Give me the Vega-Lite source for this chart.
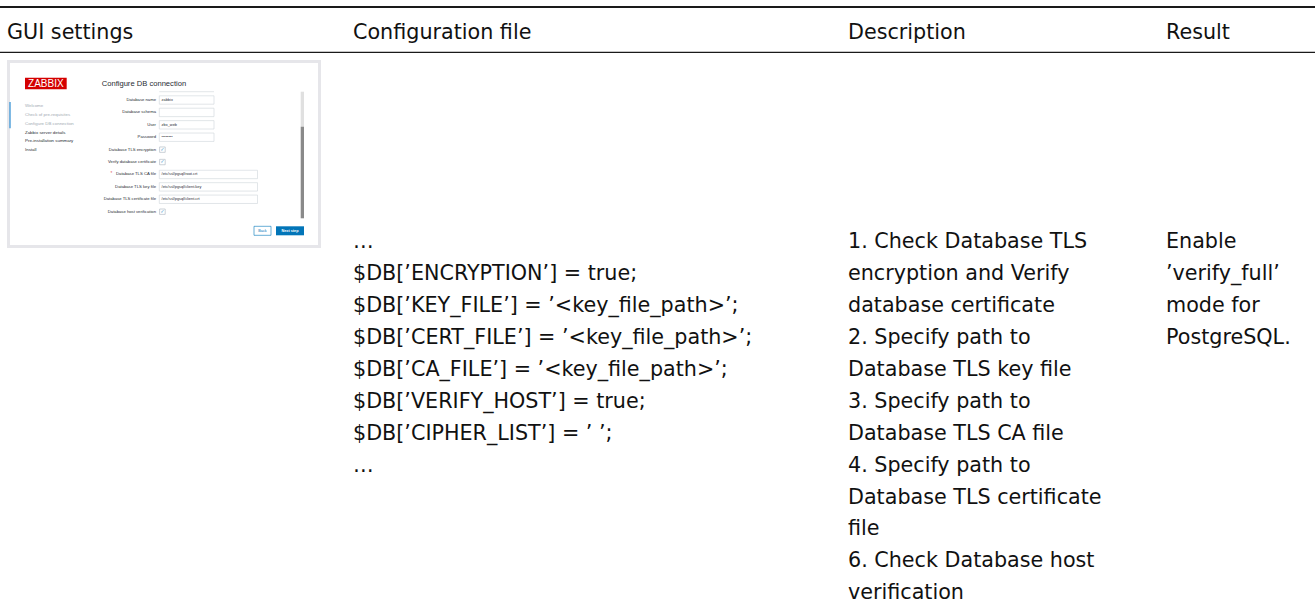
{
  "$schema": "https://vega.github.io/schema/vega-lite/v6.json",
  "width": 1315,
  "height": 611,
  "padding": 0,
  "autosize": "none",
  "background": "white",
  "config": {"view": {"stroke": null}},
  "datasets": {
    "edges": [
      {"edge": -0.5, "rule": "top"},
      {"edge": 0.5, "rule": "header"}
    ],
    "cells": [
      {"col": 1, "line": 0, "text": "GUI settings"},
      {"col": 2, "line": 0, "text": "Configuration file"},
      {"col": 3, "line": 0, "text": "Description"},
      {"col": 4, "line": 0, "text": "Result"},
      {"col": 2, "line": 1, "text": "…"},
      {"col": 2, "line": 2, "text": "$DB[’ENCRYPTION’] = true;"},
      {"col": 2, "line": 3, "text": "$DB[’KEY_FILE’] = ’<key_file_path>’;"},
      {"col": 2, "line": 4, "text": "$DB[’CERT_FILE’] = ’<key_file_path>’;"},
      {"col": 2, "line": 5, "text": "$DB[’CA_FILE’] = ’<key_file_path>’;"},
      {"col": 2, "line": 6, "text": "$DB[’VERIFY_HOST’] = true;"},
      {"col": 2, "line": 7, "text": "$DB[’CIPHER_LIST’] = ’ ’;"},
      {"col": 2, "line": 8, "text": "…"},
      {"col": 3, "line": 1, "text": "1. Check Database TLS"},
      {"col": 3, "line": 2, "text": "encryption and Verify"},
      {"col": 3, "line": 3, "text": "database certificate"},
      {"col": 3, "line": 4, "text": "2. Specify path to"},
      {"col": 3, "line": 5, "text": "Database TLS key file"},
      {"col": 3, "line": 6, "text": "3. Specify path to"},
      {"col": 3, "line": 7, "text": "Database TLS CA file"},
      {"col": 3, "line": 8, "text": "4. Specify path to"},
      {"col": 3, "line": 9, "text": "Database TLS certificate"},
      {"col": 3, "line": 10, "text": "file"},
      {"col": 3, "line": 11, "text": "6. Check Database host"},
      {"col": 3, "line": 12, "text": "verification"},
      {"col": 4, "line": 1, "text": "Enable"},
      {"col": 4, "line": 2, "text": "’verify_full’"},
      {"col": 4, "line": 3, "text": "mode for"},
      {"col": 4, "line": 4, "text": "PostgreSQL."}
    ],
    "screen": [
      {"page": "Configure DB connection", "logo": "ZABBIX", "back": "Back", "next": "Next step"}
    ],
    "steps": [
      {"step": 1, "name": "Welcome", "status": "done"},
      {"step": 2, "name": "Check of pre-requisites", "status": "done"},
      {"step": 3, "name": "Configure DB connection", "status": "current"},
      {"step": 4, "name": "Zabbix server details", "status": "pending"},
      {"step": 5, "name": "Pre-installation summary", "status": "pending"},
      {"step": 6, "name": "Install", "status": "pending"}
    ],
    "fields": [
      {"row": 1, "label": "Database name", "kind": "text", "value": "zabbix", "required": false},
      {"row": 2, "label": "Database schema", "kind": "text", "value": "", "required": false},
      {"row": 3, "label": "User", "kind": "text", "value": "zbx_web", "required": false},
      {"row": 4, "label": "Password", "kind": "text", "value": "••••••••", "required": false},
      {"row": 5, "label": "Database TLS encryption", "kind": "checkbox", "value": "", "required": false},
      {"row": 6, "label": "Verify database certificate", "kind": "checkbox", "value": "", "required": false},
      {"row": 7, "label": "Database TLS CA file", "kind": "path", "value": "/etc/ssl/pgsql/root.crt", "required": true},
      {"row": 8, "label": "Database TLS key file", "kind": "path", "value": "/etc/ssl/pgsql/client.key", "required": false},
      {"row": 9, "label": "Database TLS certificate file", "kind": "path", "value": "/etc/ssl/pgsql/client.crt", "required": false},
      {"row": 10, "label": "Database host verification", "kind": "checkbox", "value": "", "required": false}
    ]
  },
  "layer": [
    {
      "layer": [
        {
          "data": {"name": "edges"},
          "mark": {"type": "rule", "color": "#1a1a1a"},
          "encoding": {
            "y": {"field": "edge", "type": "quantitative", "axis": null,
                  "scale": {"domain": [-0.5, 0, 0.5, 1, 12], "range": [7, 38.5, 52.3, 248.3, 599.2], "nice": false, "zero": false}},
            "strokeWidth": {"field": "rule", "type": "nominal", "legend": null,
                            "scale": {"domain": ["top", "header"], "range": [2, 1.3]}}
          }
        },
        {
          "data": {"name": "cells"},
          "mark": {"type": "text", "align": "left", "baseline": "alphabetic", "font": "DejaVu Sans", "fontSize": 20.7, "color": "#111111"},
          "encoding": {
            "x": {"field": "col", "type": "quantitative", "axis": null,
                  "scale": {"domain": [1, 2, 3, 4], "range": [7, 353, 848, 1166], "nice": false, "zero": false}},
            "y": {"field": "line", "type": "quantitative", "axis": null,
                  "scale": {"domain": [-0.5, 0, 0.5, 1, 12], "range": [7, 38.5, 52.3, 248.3, 599.2], "nice": false, "zero": false}},
            "text": {"field": "text", "type": "nominal"}
          }
        }
      ]
    },
    {
      "layer": [
        {
          "data": {"name": "screen"},
          "layer": [
            {
              "mark": {"type": "rect", "fill": "white", "stroke": "#e6e6ea", "strokeWidth": 3},
              "encoding": {
                "x": {"datum": 1.5, "type": "quantitative", "axis": null, "scale": {"domain": [0, 314], "range": [7, 321], "nice": false, "zero": false}},
                "x2": {"datum": 312.5},
                "y": {"datum": 1.5, "type": "quantitative", "axis": null, "scale": {"domain": [0, 188], "range": [60, 248], "nice": false, "zero": false}},
                "y2": {"datum": 186.5}
              }
            },
            {
              "mark": {"type": "rect", "fill": "#d40000"},
              "encoding": {
                "x": {"datum": 18, "type": "quantitative", "axis": null, "scale": {"domain": [0, 314], "range": [7, 321], "nice": false, "zero": false}},
                "x2": {"datum": 59.7},
                "y": {"datum": 17.7, "type": "quantitative", "axis": null, "scale": {"domain": [0, 188], "range": [60, 248], "nice": false, "zero": false}},
                "y2": {"datum": 29.3}
              }
            },
            {
              "mark": {"type": "text", "align": "center", "baseline": "middle", "font": "Liberation Sans", "fontSize": 10, "color": "white"},
              "encoding": {
                "x": {"datum": 38.85, "type": "quantitative", "axis": null, "scale": {"domain": [0, 314], "range": [7, 321], "nice": false, "zero": false}},
                "y": {"datum": 23.8, "type": "quantitative", "axis": null, "scale": {"domain": [0, 188], "range": [60, 248], "nice": false, "zero": false}},
                "text": {"field": "logo", "type": "nominal"}
              }
            },
            {
              "mark": {"type": "text", "align": "left", "baseline": "middle", "font": "Liberation Sans", "fontSize": 7.6, "color": "#1f2c33"},
              "encoding": {
                "x": {"datum": 94.7, "type": "quantitative", "axis": null, "scale": {"domain": [0, 314], "range": [7, 321], "nice": false, "zero": false}},
                "y": {"datum": 23.7, "type": "quantitative", "axis": null, "scale": {"domain": [0, 188], "range": [60, 248], "nice": false, "zero": false}},
                "text": {"field": "page", "type": "nominal"}
              }
            },
            {
              "mark": {"type": "rule", "color": "#d6dbe0", "strokeWidth": 0.7},
              "encoding": {
                "x": {"datum": 152.3, "type": "quantitative", "axis": null, "scale": {"domain": [0, 314], "range": [7, 321], "nice": false, "zero": false}},
                "x2": {"datum": 207},
                "y": {"datum": 31.7, "type": "quantitative", "axis": null, "scale": {"domain": [0, 188], "range": [60, 248], "nice": false, "zero": false}}
              }
            },
            {
              "mark": {"type": "rect", "fill": "#e0e0e0"},
              "encoding": {
                "x": {"datum": 293.7, "type": "quantitative", "axis": null, "scale": {"domain": [0, 314], "range": [7, 321], "nice": false, "zero": false}},
                "x2": {"datum": 297},
                "y": {"datum": 31.7, "type": "quantitative", "axis": null, "scale": {"domain": [0, 188], "range": [60, 248], "nice": false, "zero": false}},
                "y2": {"datum": 66.7}
              }
            },
            {
              "mark": {"type": "rect", "fill": "#8a8a8a"},
              "encoding": {
                "x": {"datum": 293.7, "type": "quantitative", "axis": null, "scale": {"domain": [0, 314], "range": [7, 321], "nice": false, "zero": false}},
                "x2": {"datum": 297},
                "y": {"datum": 66.7, "type": "quantitative", "axis": null, "scale": {"domain": [0, 188], "range": [60, 248], "nice": false, "zero": false}},
                "y2": {"datum": 158.3}
              }
            },
            {
              "mark": {"type": "rect", "fill": "white", "stroke": "#0275b8", "strokeWidth": 0.6},
              "encoding": {
                "x": {"datum": 247, "type": "quantitative", "axis": null, "scale": {"domain": [0, 314], "range": [7, 321], "nice": false, "zero": false}},
                "x2": {"datum": 264},
                "y": {"datum": 166.3, "type": "quantitative", "axis": null, "scale": {"domain": [0, 188], "range": [60, 248], "nice": false, "zero": false}},
                "y2": {"datum": 175.3}
              }
            },
            {
              "mark": {"type": "text", "align": "center", "baseline": "middle", "font": "Liberation Sans", "fontSize": 3.8, "color": "#0275b8"},
              "encoding": {
                "x": {"datum": 255.5, "type": "quantitative", "axis": null, "scale": {"domain": [0, 314], "range": [7, 321], "nice": false, "zero": false}},
                "y": {"datum": 170.8, "type": "quantitative", "axis": null, "scale": {"domain": [0, 188], "range": [60, 248], "nice": false, "zero": false}},
                "text": {"field": "back", "type": "nominal"}
              }
            },
            {
              "mark": {"type": "rect", "fill": "#0275b8"},
              "encoding": {
                "x": {"datum": 269, "type": "quantitative", "axis": null, "scale": {"domain": [0, 314], "range": [7, 321], "nice": false, "zero": false}},
                "x2": {"datum": 297},
                "y": {"datum": 166.3, "type": "quantitative", "axis": null, "scale": {"domain": [0, 188], "range": [60, 248], "nice": false, "zero": false}},
                "y2": {"datum": 175.3}
              }
            },
            {
              "mark": {"type": "text", "align": "center", "baseline": "middle", "font": "Liberation Sans", "fontSize": 3.8, "fontWeight": "bold", "color": "white"},
              "encoding": {
                "x": {"datum": 283, "type": "quantitative", "axis": null, "scale": {"domain": [0, 314], "range": [7, 321], "nice": false, "zero": false}},
                "y": {"datum": 170.8, "type": "quantitative", "axis": null, "scale": {"domain": [0, 188], "range": [60, 248], "nice": false, "zero": false}},
                "text": {"field": "next", "type": "nominal"}
              }
            }
          ]
        },
        {
          "layer": [
            {
              "data": {"name": "screen"},
              "mark": {"type": "rule", "color": "#3b95d6", "strokeWidth": 1.3},
              "encoding": {
                "x": {"datum": 3, "type": "quantitative", "axis": null, "scale": {"domain": [0, 314], "range": [7, 321], "nice": false, "zero": false}},
                "y": {"datum": 0.5, "type": "quantitative", "axis": null, "scale": {"domain": [1, 6], "range": [106.3, 150], "nice": false, "zero": false}},
                "y2": {"datum": 3.5}
              }
            },
            {
              "data": {"name": "steps"},
              "mark": {"type": "text", "align": "left", "baseline": "middle", "font": "Liberation Sans", "fontSize": 4.4},
              "encoding": {
                "x": {"datum": 18, "type": "quantitative", "axis": null, "scale": {"domain": [0, 314], "range": [7, 321], "nice": false, "zero": false}},
                "y": {"field": "step", "type": "quantitative", "axis": null, "scale": {"domain": [1, 6], "range": [106.3, 150], "nice": false, "zero": false}},
                "text": {"field": "name", "type": "nominal"},
                "color": {"field": "status", "type": "nominal", "legend": null,
                          "scale": {"domain": ["done", "current", "pending"], "range": ["#a3abb3", "#a3abb3", "#1f2c33"]}}
              }
            }
          ]
        },
        {
          "data": {"name": "fields"},
          "layer": [
            {
              "mark": {"type": "text", "align": "right", "baseline": "middle", "font": "Liberation Sans", "fontSize": 4.2, "color": "#1f2c33"},
              "encoding": {
                "x": {"datum": 149, "type": "quantitative", "axis": null, "scale": {"domain": [0, 314], "range": [7, 321], "nice": false, "zero": false}},
                "y": {"field": "row", "type": "quantitative", "axis": null, "scale": {"domain": [1, 10], "range": [100, 211.7], "nice": false, "zero": false}},
                "text": {"field": "label", "type": "nominal"}
              }
            },
            {
              "transform": [{"filter": "datum.required"}],
              "mark": {"type": "text", "align": "left", "baseline": "middle", "font": "Liberation Sans", "fontSize": 4.6, "color": "#e45959"},
              "encoding": {
                "x": {"datum": 103.6, "type": "quantitative", "axis": null, "scale": {"domain": [0, 314], "range": [7, 321], "nice": false, "zero": false}},
                "y": {"field": "row", "type": "quantitative", "axis": null, "scale": {"domain": [1, 10], "range": [100, 211.7], "nice": false, "zero": false}},
                "text": {"value": "*"}
              }
            },
            {
              "transform": [{"filter": "datum.kind === 'text'"}],
              "mark": {"type": "rect", "height": 8.4, "fill": "white", "stroke": "#cfd5da", "strokeWidth": 0.6},
              "encoding": {
                "x": {"datum": 152.3, "type": "quantitative", "axis": null, "scale": {"domain": [0, 314], "range": [7, 321], "nice": false, "zero": false}},
                "x2": {"datum": 207},
                "y": {"field": "row", "type": "quantitative", "axis": null, "scale": {"domain": [1, 10], "range": [100, 211.7], "nice": false, "zero": false}}
              }
            },
            {
              "transform": [{"filter": "datum.kind === 'path'"}],
              "mark": {"type": "rect", "height": 8.4, "fill": "white", "stroke": "#cfd5da", "strokeWidth": 0.6},
              "encoding": {
                "x": {"datum": 152.3, "type": "quantitative", "axis": null, "scale": {"domain": [0, 314], "range": [7, 321], "nice": false, "zero": false}},
                "x2": {"datum": 250.5},
                "y": {"field": "row", "type": "quantitative", "axis": null, "scale": {"domain": [1, 10], "range": [100, 211.7], "nice": false, "zero": false}}
              }
            },
            {
              "transform": [{"filter": "datum.kind === 'checkbox'"}],
              "mark": {"type": "rect", "height": 5.4, "fill": "white", "stroke": "#aab4bd", "strokeWidth": 0.6},
              "encoding": {
                "x": {"datum": 152.6, "type": "quantitative", "axis": null, "scale": {"domain": [0, 314], "range": [7, 321], "nice": false, "zero": false}},
                "x2": {"datum": 158.2},
                "y": {"field": "row", "type": "quantitative", "axis": null, "scale": {"domain": [1, 10], "range": [100, 211.7], "nice": false, "zero": false}}
              }
            },
            {
              "transform": [{"filter": "datum.kind === 'checkbox'"}],
              "mark": {"type": "text", "align": "center", "baseline": "middle", "font": "DejaVu Sans", "fontSize": 4.6, "color": "#0275b8"},
              "encoding": {
                "x": {"datum": 155.4, "type": "quantitative", "axis": null, "scale": {"domain": [0, 314], "range": [7, 321], "nice": false, "zero": false}},
                "y": {"field": "row", "type": "quantitative", "axis": null, "scale": {"domain": [1, 10], "range": [100, 211.7], "nice": false, "zero": false}},
                "text": {"value": "✓"}
              }
            },
            {
              "transform": [{"filter": "datum.value !== ''"}],
              "mark": {"type": "text", "align": "left", "baseline": "middle", "font": "Liberation Sans", "fontSize": 3.9, "color": "#1f2c33"},
              "encoding": {
                "x": {"datum": 154.6, "type": "quantitative", "axis": null, "scale": {"domain": [0, 314], "range": [7, 321], "nice": false, "zero": false}},
                "y": {"field": "row", "type": "quantitative", "axis": null, "scale": {"domain": [1, 10], "range": [100, 211.7], "nice": false, "zero": false}},
                "text": {"field": "value", "type": "nominal"}
              }
            }
          ]
        }
      ],
      "resolve": {"scale": {"y": "independent"}}
    }
  ],
  "resolve": {"scale": {"x": "independent", "y": "independent"}}
}
